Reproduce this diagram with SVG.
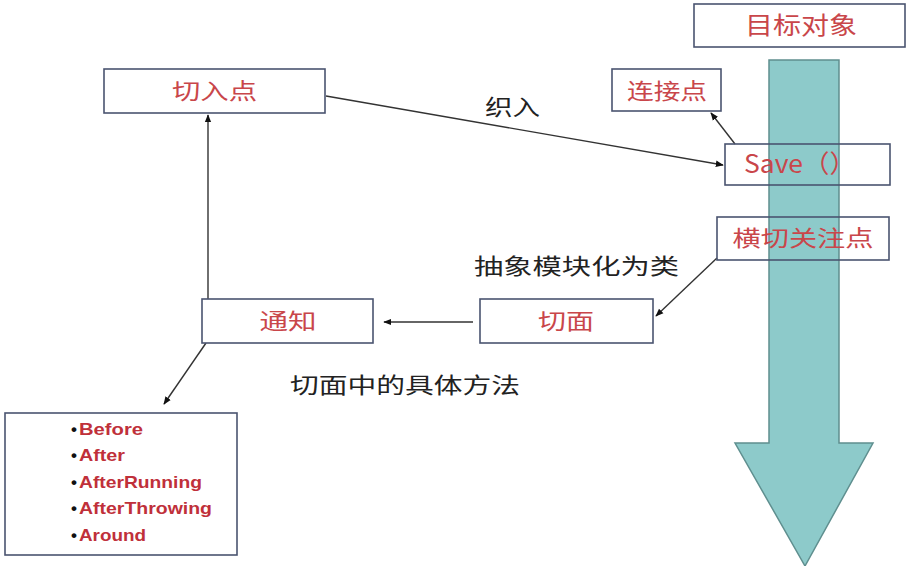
<svg xmlns="http://www.w3.org/2000/svg" width="916" height="566" viewBox="0 0 916 566">
<defs>
<style>
.box{fill:#fff;stroke:#4a5470;stroke-width:1.6}
.tbox{fill:none;stroke:#4a5470;stroke-width:1.6}
.nt{font-family:"Noto Sans CJK SC","Liberation Sans",sans-serif;fill:#c9464a;text-anchor:middle}
.lbl{font-family:"Noto Sans CJK SC","Liberation Sans",sans-serif;fill:#222;font-size:22px}
.li{font-family:"Liberation Sans",Arial,sans-serif;font-weight:bold;font-size:17px;fill:#c0303a}
.bul{font-family:"Liberation Sans",Arial,sans-serif;font-weight:bold;font-size:17px;fill:#111}
.con{stroke:#333;stroke-width:1.4;fill:none;marker-end:url(#ah)}
</style>
<marker id="ah" viewBox="0 0 10 10" refX="9" refY="5" markerWidth="8" markerHeight="8" orient="auto" markerUnits="userSpaceOnUse">
<path d="M0,1 L10,5 L0,9 Z" fill="#111"/>
</marker>
</defs>
<rect width="916" height="566" fill="#fff"/>
<g id="target-arrow">
<path d="M769,60 L839,60 L839,443 L873,443 L805,566 L735,443 L769,443 Z" fill="#8dcaca" stroke="#5f8f8f" stroke-width="1.5"/>
</g>
<g id="connectors">
<line class="con" x1="326" y1="96" x2="723" y2="165"/>
<line class="con" x1="735" y1="144" x2="711" y2="113"/>
<line class="con" x1="717" y1="258" x2="656" y2="316"/>
<line class="con" x1="473" y1="322" x2="384" y2="322"/>
<line class="con" x1="208" y1="299" x2="208" y2="115"/>
<line class="con" x1="206" y1="343" x2="164" y2="404"/>
</g>
<g id="n-target"><rect class="box" x="694" y="4" width="211" height="43"/><text class="nt" x="801" y="34" font-size="24" textLength="112" lengthAdjust="spacingAndGlyphs">目标对象</text></g>
<g id="n-joinpoint"><rect class="box" x="612" y="69" width="109" height="42"/><text class="nt" x="667" y="99" font-size="22" textLength="80" lengthAdjust="spacingAndGlyphs">连接点</text></g>
<g id="n-save"><rect class="tbox" x="725" y="144" width="165" height="41"/><text class="nt" x="800" y="173" font-size="25" textLength="112" lengthAdjust="spacingAndGlyphs">Save（）</text></g>
<g id="n-concern"><rect class="tbox" x="717" y="217" width="172" height="43"/><text class="nt" x="803" y="246" font-size="22" textLength="141" lengthAdjust="spacingAndGlyphs">横切关注点</text></g>
<g id="n-pointcut"><rect class="box" x="104" y="69" width="221" height="44"/><text class="nt" x="214.5" y="99" font-size="22" textLength="85" lengthAdjust="spacingAndGlyphs">切入点</text></g>
<g id="n-advice"><rect class="box" x="202" y="299" width="171" height="44"/><text class="nt" x="288" y="329" font-size="22" textLength="57" lengthAdjust="spacingAndGlyphs">通知</text></g>
<g id="n-aspect"><rect class="box" x="480" y="299" width="173" height="44"/><text class="nt" x="566" y="329" font-size="22" textLength="56" lengthAdjust="spacingAndGlyphs">切面</text></g>
<g id="n-list">
<rect class="box" x="5" y="413" width="232" height="142"/>
<text class="bul" x="71" y="435">•</text><text class="li" x="79" y="435" textLength="64" lengthAdjust="spacingAndGlyphs">Before</text>
<text class="bul" x="71" y="461">•</text><text class="li" x="79" y="461" textLength="46" lengthAdjust="spacingAndGlyphs">After</text>
<text class="bul" x="71" y="488">•</text><text class="li" x="79" y="488" textLength="123" lengthAdjust="spacingAndGlyphs">AfterRunning</text>
<text class="bul" x="71" y="514">•</text><text class="li" x="79" y="514" textLength="133" lengthAdjust="spacingAndGlyphs">AfterThrowing</text>
<text class="bul" x="71" y="541">•</text><text class="li" x="79" y="541" textLength="67" lengthAdjust="spacingAndGlyphs">Around</text>
</g>
<g id="labels">
<text class="lbl" x="485" y="115" textLength="55" lengthAdjust="spacingAndGlyphs">织入</text>
<text class="lbl" x="474" y="274" textLength="205" lengthAdjust="spacingAndGlyphs">抽象模块化为类</text>
<text class="lbl" x="290" y="393" textLength="230" lengthAdjust="spacingAndGlyphs">切面中的具体方法</text>
</g>
</svg>
